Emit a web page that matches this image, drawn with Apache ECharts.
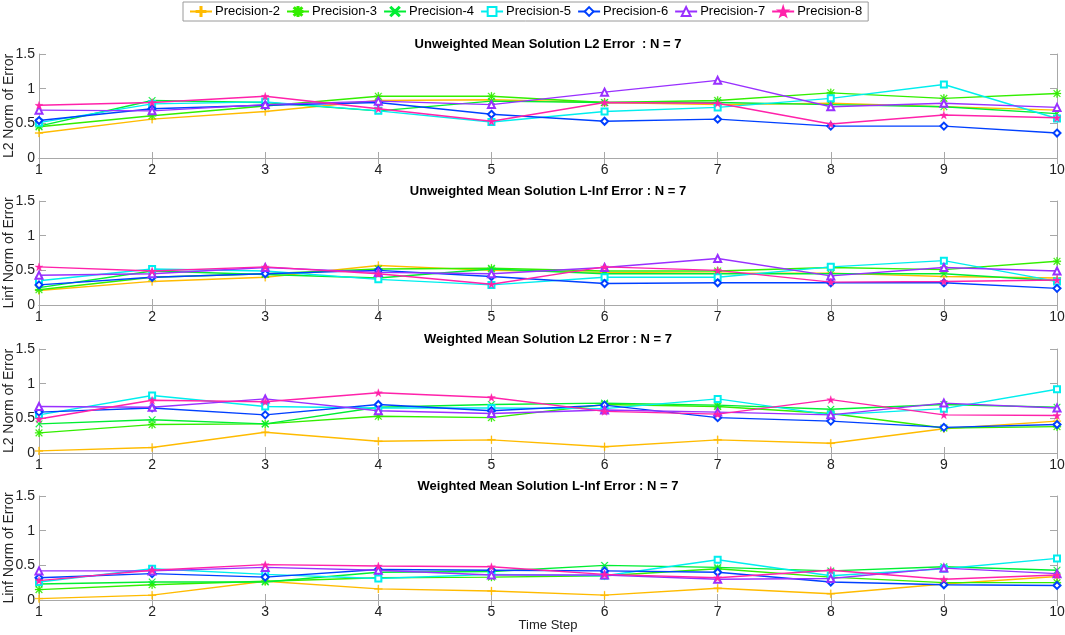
<!DOCTYPE html>
<html>
<head>
<meta charset="utf-8">
<title>Mean Solution Error by Precision</title>
<script src="https://cdn.jsdelivr.net/npm/echarts@6/dist/echarts.min.js"></script>
<style>
  html, body { margin: 0; padding: 0; background: #fff; }
  #chart { width: 1065px; height: 635px; }
</style>
</head>
<body>
<div id="chart"></div>
<script>
"use strict";

// ---- data ----
var steps = ['1', '2', '3', '4', '5', '6', '7', '8', '9', '10'];
var precisions = ['Precision-2', 'Precision-3', 'Precision-4', 'Precision-5',
                  'Precision-6', 'Precision-7', 'Precision-8'];
var yTicks = [0, 0.5, 1, 1.5];

var panelTitles = [
    'Unweighted Mean Solution L2 Error  : N = 7',
    'Unweighted Mean Solution L-Inf Error : N = 7',
    'Weighted Mean Solution L2 Error : N = 7',
    'Weighted Mean Solution L-Inf Error : N = 7'
];
var panelYNames = ['L2 Norm of Error', 'Linf Norm of Error', 'L2 Norm of Error', 'Linf Norm of Error'];

// one row per precision (2..8)
var unweightedL2 = [
    [0.36, 0.56, 0.67, 0.83, 0.84, 0.80, 0.77, 0.79, 0.74, 0.69],
    [0.45, 0.61, 0.75, 0.89, 0.89, 0.80, 0.83, 0.94, 0.86, 0.93],
    [0.46, 0.83, 0.80, 0.68, 0.82, 0.80, 0.80, 0.77, 0.74, 0.64],
    [0.51, 0.78, 0.81, 0.68, 0.52, 0.67, 0.73, 0.86, 1.06, 0.57],
    [0.54, 0.71, 0.76, 0.80, 0.63, 0.53, 0.56, 0.46, 0.46, 0.36],
    [0.69, 0.68, 0.77, 0.82, 0.77, 0.95, 1.12, 0.74, 0.79, 0.73],
    [0.76, 0.80, 0.89, 0.71, 0.53, 0.80, 0.79, 0.49, 0.62, 0.58]
];
var unweightedLinf = [
    [0.21, 0.34, 0.40, 0.57, 0.50, 0.47, 0.46, 0.46, 0.41, 0.39],
    [0.22, 0.40, 0.45, 0.52, 0.53, 0.49, 0.49, 0.54, 0.51, 0.63],
    [0.25, 0.49, 0.44, 0.39, 0.52, 0.45, 0.45, 0.45, 0.45, 0.35],
    [0.35, 0.52, 0.49, 0.37, 0.29, 0.40, 0.40, 0.55, 0.64, 0.34],
    [0.29, 0.40, 0.45, 0.50, 0.41, 0.31, 0.32, 0.32, 0.32, 0.24],
    [0.43, 0.45, 0.54, 0.47, 0.45, 0.54, 0.67, 0.42, 0.54, 0.49],
    [0.55, 0.49, 0.55, 0.45, 0.30, 0.55, 0.50, 0.33, 0.34, 0.36]
];
var weightedL2 = [
    [0.03, 0.08, 0.30, 0.17, 0.19, 0.09, 0.19, 0.14, 0.35, 0.46],
    [0.29, 0.41, 0.42, 0.53, 0.51, 0.70, 0.67, 0.57, 0.36, 0.38],
    [0.42, 0.48, 0.42, 0.66, 0.70, 0.72, 0.69, 0.63, 0.70, 0.66],
    [0.55, 0.83, 0.67, 0.65, 0.65, 0.64, 0.78, 0.55, 0.64, 0.92],
    [0.59, 0.65, 0.55, 0.70, 0.61, 0.69, 0.51, 0.46, 0.37, 0.41],
    [0.67, 0.66, 0.78, 0.61, 0.57, 0.62, 0.59, 0.55, 0.72, 0.65],
    [0.49, 0.76, 0.74, 0.87, 0.80, 0.60, 0.56, 0.77, 0.55, 0.54]
];
var weightedLinf = [
    [0.02, 0.07, 0.27, 0.16, 0.13, 0.07, 0.17, 0.09, 0.23, 0.34],
    [0.15, 0.22, 0.27, 0.32, 0.33, 0.35, 0.45, 0.33, 0.25, 0.25],
    [0.23, 0.26, 0.26, 0.40, 0.41, 0.50, 0.47, 0.42, 0.48, 0.43],
    [0.26, 0.45, 0.37, 0.31, 0.37, 0.35, 0.58, 0.35, 0.45, 0.60],
    [0.32, 0.38, 0.33, 0.44, 0.43, 0.42, 0.40, 0.26, 0.22, 0.21],
    [0.42, 0.42, 0.47, 0.43, 0.36, 0.36, 0.30, 0.31, 0.46, 0.38],
    [0.28, 0.43, 0.51, 0.49, 0.48, 0.37, 0.32, 0.43, 0.30, 0.36]
];
var panels = [unweightedL2, unweightedLinf, weightedL2, weightedLinf];

// ---- styling ----
var colors = ['#ffbb00', '#33ee00', '#00ee33', '#00eeee', '#0040ff', '#9930ff', '#ff22aa'];
var plusPath = 'path://M4.4,0H5.6V10H4.4Z M0,4.4H10V5.6H0Z';
var crossPath = 'path://M0.8,0L5,4.2L9.2,0L10,0.8L5.8,5L10,9.2L9.2,10L5,5.8L0.8,10L0,9.2L4.2,5L0,0.8Z';
var starPath = 'path://M4.4,0H5.6V10H4.4Z M0,4.4H10V5.6H0Z M1.3,0.5L5,4.2L8.7,0.5L9.5,1.3L5.8,5L9.5,8.7L8.7,9.5L5,5.8L1.3,9.5L0.5,8.7L4.2,5L0.5,1.3Z';
var pentaPath = 'path://M5,0L6.2,3.6L10,3.6L6.9,5.9L8.1,9.5L5,7.3L1.9,9.5L3.1,5.9L0,3.6L3.8,3.6Z';
var symbols = [plusPath, starPath, crossPath, 'emptyRect', 'emptyDiamond', 'emptyTriangle', pentaPath];
var symbolSizes = [8, 8, 7, 6, 7, 7, 8];

var frameColor = '#a8a8a8';
var textColor = '#222';
var fontFamily = '"Liberation Sans", Arial, Helvetica, sans-serif';

var plotLeft = 39, plotRight = 8, plotHeight = 104;
var plotTops = [54, 201, 349, 496];

var chart = echarts.init(document.getElementById('chart'), null, { renderer: 'canvas' });

var grids = [], xAxes = [], yAxes = [], titles = [], series = [];

plotTops.forEach(function (top, p) {
    grids.push({
        left: plotLeft, right: plotRight, top: top, height: plotHeight,
        containLabel: false, outerBoundsMode: 'none'
    });

    titles.push({
        text: panelTitles[p],
        left: 548,
        top: top - 16,
        textAlign: 'center',
        padding: 0,
        textStyle: { fontFamily: fontFamily, fontSize: 13, fontWeight: 'bold', color: '#000' }
    });

    // bottom x axis with labels
    xAxes.push({
        gridIndex: p,
        type: 'category',
        data: steps,
        boundaryGap: false,
        position: 'bottom',
        name: p === 3 ? 'Time Step' : '',
        nameLocation: 'middle',
        nameGap: 19,
        nameMoveOverlap: false,
        nameTextStyle: { fontFamily: fontFamily, fontSize: 13, color: textColor },
        axisLine: { show: true, lineStyle: { color: frameColor, width: 1 } },
        axisTick: { show: true, inside: true, length: 6, alignWithLabel: true, lineStyle: { color: frameColor } },
        axisLabel: { show: true, margin: 5, fontFamily: fontFamily, fontSize: 14, color: textColor },
        splitLine: { show: false }
    });
    // top x axis, ticks only (box on)
    xAxes.push({
        gridIndex: p,
        type: 'category',
        data: steps,
        boundaryGap: false,
        position: 'top',
        axisLine: { show: true, lineStyle: { color: frameColor, width: 1 } },
        axisTick: { show: true, inside: true, length: 6, lineStyle: { color: frameColor } },
        axisLabel: { show: false },
        splitLine: { show: false }
    });

    yAxes.push({
        gridIndex: p,
        type: 'value',
        min: yTicks[0],
        max: yTicks[yTicks.length - 1],
        interval: yTicks[1] - yTicks[0],
        position: 'left',
        name: panelYNames[p],
        nameLocation: 'middle',
        nameGap: 23,
        nameMoveOverlap: false,
        nameTextStyle: { fontFamily: fontFamily, fontSize: 14, color: textColor },
        axisLine: { show: true, lineStyle: { color: frameColor, width: 1 } },
        axisTick: { show: true, inside: true, length: 7, lineStyle: { color: frameColor } },
        axisLabel: { margin: 4, fontFamily: fontFamily, fontSize: 14, color: textColor },
        splitLine: { show: false }
    });
    yAxes.push({
        gridIndex: p,
        type: 'value',
        min: yTicks[0],
        max: yTicks[yTicks.length - 1],
        interval: yTicks[1] - yTicks[0],
        position: 'right',
        axisLine: { show: true, lineStyle: { color: frameColor, width: 1 } },
        axisTick: { show: true, inside: true, length: 7, lineStyle: { color: frameColor } },
        axisLabel: { show: false },
        splitLine: { show: false }
    });

    panels[p].forEach(function (values, k) {
        series.push({
            name: precisions[k],
            type: 'line',
            xAxisIndex: 2 * p,
            yAxisIndex: 2 * p,
            data: values,
            symbol: symbols[k],
            symbolSize: symbolSizes[k],
            showSymbol: true,
            animation: false,
            lineStyle: { color: colors[k], width: 1.4 },
            itemStyle: { color: colors[k], borderColor: colors[k], borderWidth: k >= 3 && k <= 5 ? 1.3 : 0.3 },
            emphasis: { disabled: true },
            z: 2 + k
        });
    });
});

var option = {
    backgroundColor: '#fff',
    animation: false,
    title: titles,
    legend: {
        data: precisions,
        left: 183,
        top: 2,
        padding: [3, 6, 3, 6],
        itemGap: 6,
        itemWidth: 22,
        itemHeight: 11,
        borderColor: '#9a9a9a',
        borderWidth: 1,
        borderRadius: 0,
        selectedMode: false,
        textStyle: { fontFamily: fontFamily, fontSize: 13, color: '#000', padding: [0, 0, 0, -2] }
    },
    grid: grids,
    xAxis: xAxes,
    yAxis: yAxes,
    series: series
};

chart.setOption(option);

window.addEventListener('resize', function () {
    chart.resize();
});
</script>
</body>
</html>
